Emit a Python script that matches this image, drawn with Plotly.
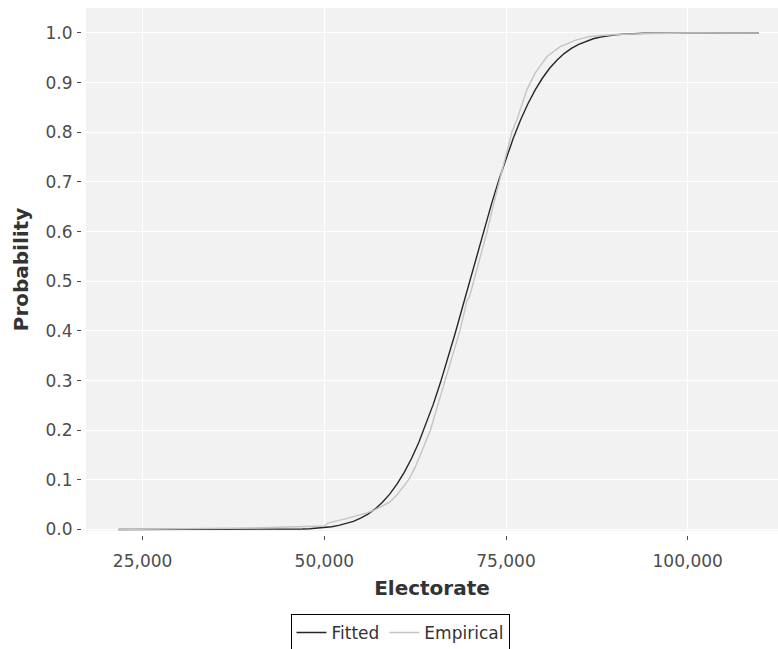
import plotly.graph_objects as go

# Fitted normal CDF, sampled along the electorate axis
fitted_x = [21700, 30000, 36000, 40000, 42000, 44000, 45000, 46000, 47000, 48000,
            49000, 50000, 51000, 52000, 53000, 54000, 55000, 56000, 57000, 58000,
            59000, 60000, 61000, 62000, 63000, 64000, 65000, 66000, 67000, 68000,
            69000, 70000, 71000, 72000, 73000, 74000, 75000, 76000, 77000, 78000,
            79000, 80000, 81000, 82000, 83000, 84000, 85000, 86000, 87000, 88000,
            89000, 90000, 91000, 92000, 94000, 96000, 100000, 109750]
fitted_y = [0.0, 0.0, 0.000003, 0.00003, 0.000095, 0.00026, 0.00043, 0.00069, 0.00108, 0.00168,
            0.00256, 0.00383, 0.00565, 0.0082, 0.0117, 0.0165, 0.0228, 0.031, 0.0415, 0.0548,
            0.0712, 0.0912, 0.1151, 0.143, 0.1753, 0.2119, 0.2525, 0.2969, 0.3446, 0.3949,
            0.447, 0.5, 0.553, 0.6051, 0.6554, 0.7031, 0.7475, 0.7881, 0.8247, 0.857,
            0.8849, 0.9088, 0.929, 0.9452, 0.9585, 0.969, 0.9772, 0.9835, 0.9883, 0.9918,
            0.9944, 0.9962, 0.9975, 0.9983, 0.9993, 0.9997, 1.0, 1.0]

# Empirical cumulative distribution of constituency electorates
empirical_x = [21700, 30000, 40000, 45000, 48000, 50000, 50500, 51500, 53000, 54500,
               56000, 57000, 58000, 59000, 60000, 61000, 61600, 62500, 63500, 64600,
               65600, 66650, 67700, 68650, 69300, 69600, 70000, 70550, 71500, 72400,
               73200, 74050, 75000, 75800, 76500, 77850, 79000, 80600, 82400, 84700,
               86500, 90000, 95000, 100000, 109750]
empirical_y = [0.0, 0.001, 0.003, 0.005, 0.006, 0.007, 0.013, 0.016, 0.022, 0.028,
               0.034, 0.040, 0.047, 0.055, 0.070, 0.088, 0.100, 0.125, 0.160, 0.200,
               0.250, 0.300, 0.350, 0.400, 0.440, 0.460, 0.470, 0.500, 0.550, 0.600,
               0.650, 0.700, 0.750, 0.800, 0.825, 0.885, 0.919, 0.952, 0.972, 0.986,
               0.993, 0.997, 0.999, 1.0, 1.0]

x_ticks = [25000, 50000, 75000, 100000]
y_ticks = [0.0, 0.1, 0.2, 0.3, 0.4, 0.5, 0.6, 0.7, 0.8, 0.9, 1.0]

FONT = "DejaVu Sans"
W, H = 778, 649

fig = go.Figure()
fig.add_trace(go.Scatter(x=fitted_x, y=fitted_y, mode="lines", name="Fitted",
                         line=dict(color="#262626", width=1.4)))
fig.add_trace(go.Scatter(x=empirical_x, y=empirical_y, mode="lines", name="Empirical",
                         line=dict(color="#c4c4c4", width=1.4)))

fig.update_layout(
    width=W, height=H,
    margin=dict(l=0, r=0, t=0, b=0, autoexpand=False),
    paper_bgcolor="white",
    plot_bgcolor="#f2f2f2",
    font=dict(family=FONT, size=17, color="#4d4d4d"),
    xaxis=dict(
        domain=[86 / W, 1.0],
        range=[17213, 112424],
        anchor="free", position=(H - 535) / H,
        automargin=False,
        tickvals=x_ticks, tickformat=",d",
        ticks="outside", ticklen=4, tickcolor="#4d4d4d", tickwidth=1,
        ticklabelstandoff=7,
        showgrid=True, gridcolor="white", gridwidth=1.2,
        zeroline=False, showline=False,
        title=dict(text="Electorate", standoff=10,
                   font=dict(family=FONT, size=20, color="#333333", weight="bold")),
    ),
    yaxis=dict(
        domain=[(H - 531) / H, (H - 8) / H],
        range=[-0.003, 1.0503],
        anchor="free", position=81 / W,
        automargin=False,
        tickvals=y_ticks, tickformat=".1f",
        ticks="outside", ticklen=4, tickcolor="#4d4d4d", tickwidth=1,
        ticklabelstandoff=1,
        showgrid=True, gridcolor="white", gridwidth=1.2,
        zeroline=False, showline=False,
        title=dict(text="Probability", standoff=10,
                   font=dict(family=FONT, size=20, color="#333333", weight="bold")),
    ),
    legend=dict(
        orientation="h",
        x=400 / W, xanchor="center",
        y=(H - 614) / H, yanchor="top",
        bordercolor="black", borderwidth=1, bgcolor="white",
        font=dict(family=FONT, size=17, color="#333333"),
    ),
)

fig.write_html("out.html")
